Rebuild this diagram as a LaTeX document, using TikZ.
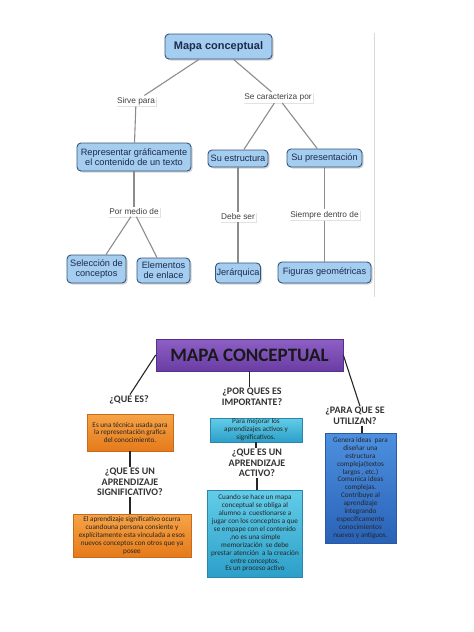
\documentclass[tikz,border=0pt]{standalone}
\usepackage{fontspec}
\setmainfont{Liberation Sans}
\newfontfamily\calibfont{Carlito}
\usetikzlibrary{shadows}
\definecolor{boxblue}{HTML}{A4CDF0}
\definecolor{boxedge}{HTML}{34557C}
\definecolor{navytext}{HTML}{1C2B4E}
\definecolor{linkgray}{HTML}{8C8C8C}
\definecolor{purpletop}{HTML}{8E60C6}
\definecolor{purplebot}{HTML}{6A3DA4}
\definecolor{purpleedge}{HTML}{54308A}
\definecolor{orangetop}{HTML}{F6A447}
\definecolor{orangebot}{HTML}{E57A1A}
\definecolor{orangeedge}{HTML}{C8691C}
\definecolor{cyantop}{HTML}{63CDE8}
\definecolor{cyanbot}{HTML}{2C9FC9}
\definecolor{cyanedge}{HTML}{2A86AC}
\definecolor{bluetop}{HTML}{4D90E0}
\definecolor{bluebot}{HTML}{2962B7}
\definecolor{blueedge}{HTML}{2A5AA0}
\begin{document}
\begin{tikzpicture}[x=1pt, y=-1pt,
  concept/.style={draw=boxedge, line width=0.9pt, fill=boxblue, rounded corners=4pt,
    text=navytext, font=\fontsize{9.2}{10}\selectfont, align=center, inner sep=1pt,
    drop shadow={shadow xshift=1.5pt, shadow yshift=-1.5pt, fill=gray!70}},
  linkword/.style={fill=white, text=black!75, font=\fontsize{8.3}{9}\selectfont, inner sep=1.5pt,
    drop shadow={shadow xshift=1pt, shadow yshift=-1pt, fill=gray!45}},
  link/.style={draw=linkgray, line width=1.1pt},
  cbox/.style={align=center, font=\calibfont\fontsize{7.2}{7.9}\selectfont, text=black!85,
    inner sep=0.5pt, line width=0.6pt},
  orangebox/.style={cbox, draw=orangeedge, top color=orangetop, bottom color=orangebot},
  cyanbox/.style={cbox, draw=cyanedge, top color=cyantop, bottom color=cyanbot},
  bluebox/.style={cbox, draw=blueedge, top color=bluetop, bottom color=bluebot},
  question/.style={align=center, font=\calibfont\bfseries\fontsize{10}{10.5}\selectfont,
    text=black!80, inner sep=1pt},
  bar/.style={draw=black!85, line width=1.1pt}]
  \useasboundingbox (0,0) rectangle (474,632);
  % upper map
  \draw[black!15, line width=0.8pt] (374,33) -- (374,297);
  \node[concept, font=\bfseries\fontsize{11}{12}\selectfont, minimum width=107, minimum height=25] (title) at (218.5,46.5) {Mapa conceptual};
  \node[linkword] (sirve) at (136,101) {Sirve para};
  \node[linkword] (carac) at (278,97.5) {Se caracteriza por};
  \node[concept, minimum width=114, minimum height=28] (repr) at (134,157) {Representar gráficamente\\el contenido de un texto};
  \node[concept, minimum width=60, minimum height=17] (estr) at (238,158.5) {Su estructura};
  \node[concept, minimum width=75, minimum height=18] (pres) at (324.5,158) {Su presentación};
  \node[linkword] (medio) at (134,212) {Por medio de};
  \node[linkword] (debe) at (238,217) {Debe ser};
  \node[linkword] (siempre) at (324.5,215) {Siempre dentro de};
  \node[concept, minimum width=59, minimum height=28] (selec) at (96.5,269) {Selección de\\conceptos};
  \node[concept, minimum width=53, minimum height=25] (elem) at (163.5,270.5) {Elementos\\de enlace};
  \node[concept, minimum width=45, minimum height=20] (jerar) at (238,273) {Jerárquica};
  \node[concept, minimum width=93, minimum height=21] (figuras) at (324.5,272.5) {Figuras geométricas};
  \foreach \a/\b in {title/sirve, title/carac, sirve/repr, carac/estr, carac/pres, repr/medio,
      medio/selec, medio/elem, estr/debe, debe/jerar, pres/siempre, siempre/figuras}
    \draw[link] (\a) -- (\b);
  % lower map
  \node[draw=purpleedge, line width=0.6pt, top color=purpletop, bottom color=purplebot,
    minimum width=187, minimum height=32, font=\calibfont\bfseries\fontsize{19}{21}\selectfont,
    text=black!90] (mapa) at (249.5,355) {MAPA CONCEPTUAL};
  \node[question] (quees) at (129,400) {¿QUE ES?};
  \node[question] (porque) at (252,397) {¿POR QUES ES\\IMPORTANTE?};
  \node[question] (paraque) at (355,416) {¿PARA QUE SE\\UTILIZAN?};
  \node[orangebox, minimum width=86, minimum height=37] (tecnica) at (130,432.5) {Es una técnica usada para\\la representación grafica\\del conocimiento.};
  \node[question] (qsig) at (130,482) {¿QUE ES UN\\APRENDIZAJE\\SIGNIFICATIVO?};
  \node[orangebox, minimum width=118, minimum height=43] (signif) at (132,535.5) {El aprendizaje significativo ocurra\\cuandouna persona consiente y\\explícitamente esta vinculada a esos\\nuevos conceptos con otros que ya\\posee};
  \node[cyanbox, minimum width=92, minimum height=24] (mejorar) at (256,430) {Para mejorar los\\aprendizajes activos y\\significativos.};
  \node[question] (qact) at (257,463) {¿QUE ES UN\\APRENDIZAJE\\ACTIVO?};
  \node[cyanbox, minimum width=95, minimum height=87] (activo) at (255,533.5) {Cuando se hace un mapa\\conceptual se obliga al\\alumno a \ cuestionarse a\\jugar con los conceptos a que\\se empape con el contenido\\,no es una simple\\memorización \ se debe\\prestar atención \ a la creación\\entre conceptos.\\Es un proceso activo};
  \node[bluebox, minimum width=71, minimum height=110] (utiliza) at (360.5,488) {Genera ideas \ para\\diseñar una\\estructura\\compleja(textos\\largos , etc.)\\Comunica ideas\\complejas.\\Contribuye al\\aprendizaje\\integrando\\específicamente\\conocimientos\\nuevos y antiguos.};
  \draw[bar] (mapa.west) -- ([xshift=1pt]quees.north);
  \draw[bar] (mapa.south) -- (mapa.south |- porque.north);
  \draw[bar] (mapa.east) -- ([xshift=5pt]paraque.north);
  \draw[bar] (tecnica) -- (qsig);
  \draw[bar] (qsig.south) -- (qsig.south |- signif.north);
  \draw[bar] (mejorar) -- (mejorar |- qact.north);
  \draw[bar] (qact.south) -- (qact.south |- activo.north);
  \draw[bar] ([xshift=7pt]paraque.south) -- ([xshift=7pt]paraque.south |- utiliza.north);
\end{tikzpicture}
\end{document}
